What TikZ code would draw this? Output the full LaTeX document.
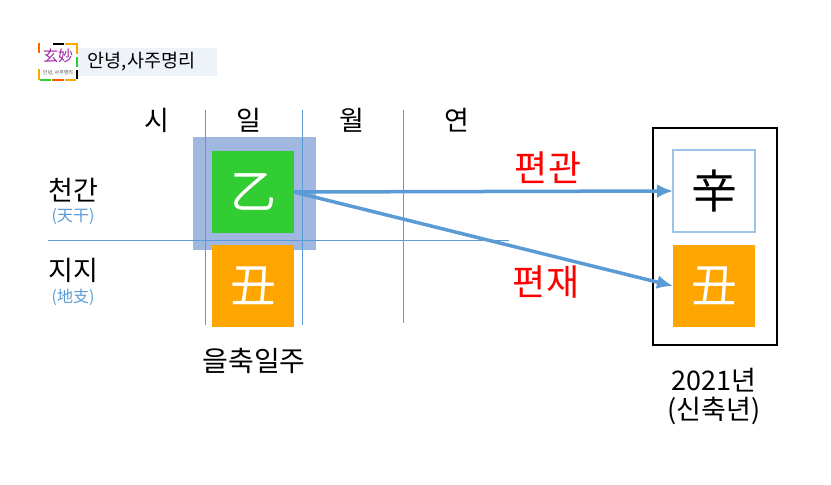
\documentclass[tikz,border=0pt]{standalone}
\usepackage{fontspec}
\setmainfont{Noto Sans CJK KR}
\usepackage{tikz}
\usetikzlibrary{arrows.meta}
\definecolor{gridblue}{HTML}{5B9BD5}
\definecolor{lightblue}{HTML}{9DC3E6}
\definecolor{markblue}{HTML}{A0B8E0}
\definecolor{bannerblue}{HTML}{EEF3FA}
\definecolor{woodgreen}{HTML}{32CD32}
\definecolor{earthorange}{HTML}{FFA500}
\definecolor{logopurple}{HTML}{A020A0}
\tikzset{
    GanjiBox/.style={minimum size=82pt, inner sep=0pt, outer sep=0pt, font=\fontsize{46}{46}\selectfont},
    GridLine/.style={color=gridblue, line width=0.8pt},
    RelArrow/.style={-{Latex[length=16pt,width=14pt]}, color=gridblue, line width=3.5pt},
    HeadText/.style={font=\fontsize{27}{27}\selectfont, inner sep=0pt},
    NoteText/.style={font=\fontsize{16}{16}\selectfont, color=gridblue, inner sep=0pt},
    RelText/.style={font=\fontsize{36}{36}\selectfont, color=red, inner sep=0pt},
    LogoEdge/.style={line width=2pt}
}
\begin{document}
\begin{tikzpicture}[x=1pt, y=-1pt]
        \useasboundingbox (0,0) rectangle (831,485);
        % logo and greeting
        \fill[bannerblue] (78,48) rectangle (217,76);
        \node[inner sep=0pt, anchor=west, font=\fontsize{18.5}{18.5}\selectfont] (hello) at (87,62) {안녕,\kern1pt 사주명리};
        \node[inner sep=0pt, font=\fontsize{15}{15}\selectfont, color=logopurple] (logoname) at (58,56) {玄妙};
        \node[inner sep=0pt, font=\fontsize{5}{5}\selectfont, color=black!70] (logotext) at (58,73) {안녕, 사주명리};
        \draw[LogoEdge, color=black] (53,43.5) -- (64,43.5);
        \draw[LogoEdge, color=earthorange] (65,43.5) -- (77,43.5);
        \draw[LogoEdge, color=orange!80!red] (38.5,43) -- (38.5,53);
        \draw[LogoEdge, color=earthorange] (38.5,69) -- (38.5,80);
        \draw[LogoEdge, color=earthorange] (77,43) -- (77,54);
        \draw[LogoEdge, color=woodgreen] (77,57) -- (77,67);
        \draw[LogoEdge, color=black] (77,70) -- (77,79);
        \draw[LogoEdge, color=woodgreen] (40,80) -- (51,80);
        \draw[LogoEdge, color=orange!70!red] (52,80) -- (64,80);
        \draw[LogoEdge, color=earthorange] (65,80) -- (76,80);
        % day pillar mark
        \fill[markblue] (193,137) rectangle (316,250);
        % grid
        \coordinate (rowL) at (48,240);
        \coordinate (rowR) at (509,240);
        \coordinate (colAt) at (205,110);
        \coordinate (colAb) at (205,325);
        \coordinate (colBt) at (302,110);
        \coordinate (colBb) at (302,325);
        \coordinate (colCt) at (403,110);
        \coordinate (colCb) at (403,323);
        \draw[GridLine] (rowL) -- (rowR);
        \draw[GridLine] (colAt) -- (colAb);
        \draw[GridLine] (colBt) -- (colBb);
        \draw[GridLine] (colCt) -- (colCb);
        % headings
        \node[HeadText] (si) at (157,120) {시};
        \node[HeadText] (il) at (249,120) {일};
        \node[HeadText] (wol) at (352,120) {월};
        \node[HeadText] (yeon) at (457,120) {연};
        \node[HeadText] (cheongan) at (73,190) {천간};
        \node[NoteText] (cheonganH) at (73,217) {(天干)};
        \node[HeadText] (jiji) at (73,270) {지지};
        \node[NoteText] (jijiH) at (73,297) {(地支)};
        % pillars
        \node[GanjiBox, fill=woodgreen, text=white] (eul) at (253,192) {乙};
        \node[GanjiBox, fill=earthorange, text=white] (chuk) at (253,286) {丑};
        \node[HeadText, font=\fontsize{28}{28}\selectfont] (eulchuk) at (254,361) {을축일주};
        \draw[black, line width=2pt] (653,128) rectangle (777,345);
        \node[GanjiBox, draw=lightblue, line width=1.2pt, fill=white, text=black] (sin) at (714,191) {辛};
        \node[GanjiBox, fill=earthorange, text=white] (chukY) at (714,286) {丑};
        \node[HeadText] (year) at (714,380) {2021년};
        \node[HeadText] (yearH) at (714,411) {(신축년)};
        % relations
        \draw[RelArrow] (eul.east) -- (sin.west);
        \draw[RelArrow] (eul.east) -- (chukY.west);
        \node[RelText] (pyeongwan) at (548,168) {편관};
        \node[RelText] (pyeonjae) at (546,282) {편재};
\end{tikzpicture}
\end{document}
